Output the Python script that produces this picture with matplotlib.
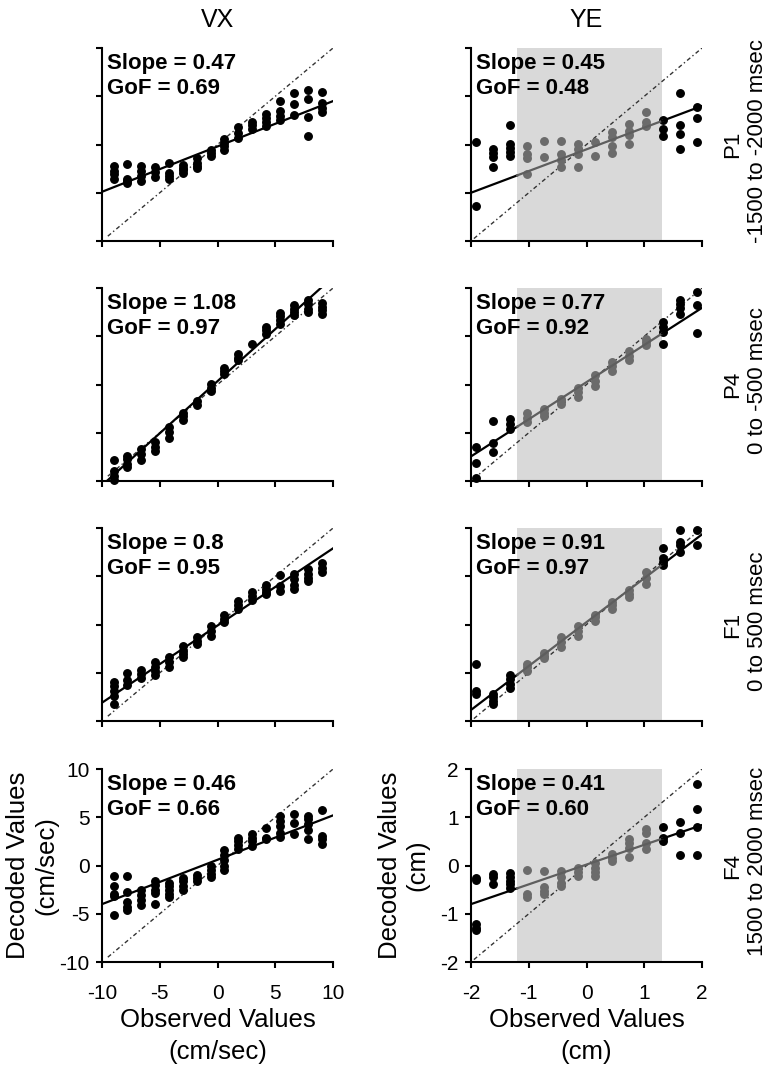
import numpy as np
import matplotlib.pyplot as plt

plt.rcParams['font.family'] = ['Liberation Sans', 'DejaVu Sans']
plt.rcParams['axes.unicode_minus'] = False

# observed positions (bins)
vx_pos = [-9, -7.8, -6.6, -5.4, -4.2, -3, -1.8, -0.6, 0.6, 1.8, 3, 4.2, 5.4, 6.6, 7.8, 9]
ye_pos = [-1.92, -1.62, -1.33, -1.03, -0.74, -0.44, -0.15, 0.15, 0.44, 0.74, 1.03, 1.33, 1.62, 1.92]

# decoded values per bin, VX (cm/sec)
vx_p1 = [[-2.24, -2.7, -3.1, -3.55], [-2.07, -3.55, -3.8, -3.97], [-2.24, -2.76, -3.28, -3.8],
         [-2.34, -2.86, -3.38], [-1.9, -2.93, -3.28, -3.55], [-2.17, -2.41, -2.69, -2.93],
         [-1.45, -1.9, -2.24, -2.48], [-0.52, -0.86, -1.2], [0.52, 0.17, -0.17, -0.62],
         [1.83, 1.2, 0.69], [2.3, 1.97, 1.62], [3.2, 2.76, 2.3, 1.9], [4.55, 3.45, 3.0, 2.59],
         [5.34, 4.2, 3.1], [5.69, 4.72, 2.83, 0.86], [5.45, 4.31, 3.8, 3.34]]
vx_p4 = [[-7.85, -8.96, -9.48, -9.93], [-7.4, -7.74, -8.2, -8.6], [-6.7, -7.2, -7.8],
         [-6.0, -6.5, -6.9], [-4.44, -4.97, -5.5], [-3.0, -3.3, -3.7], [-1.74, -2.08],
         [0.07, -0.35, -0.69], [1.7, 1.39, 1.04], [3.13, 2.78, 2.5], [4.24],
         [5.97, 5.6, 5.2], [7.43, 7.08, 6.67, 6.32], [8.23, 7.88, 7.53, 7.19],
         [8.75, 8.33, 7.88, 7.53], [8.4, 8.06, 7.7, 7.36]]
vx_f1 = [[-5.94, -6.42, -6.88, -7.4, -8.26], [-5.03, -5.76, -6.28], [-4.72, -5.14, -5.49],
         [-3.92, -4.38, -4.79, -5.2], [-3.4, -3.92, -4.44], [-2.19, -2.7, -3.06, -3.4],
         [-1.32, -1.67, -2.01], [-0.1, -0.63, -1.15], [0.94, 0.6, 0.31], [2.4, 1.98, 1.63],
         [3.37, 2.92, 2.57], [4.13, 3.72, 3.37, 3.13], [5.17, 3.96, 3.47],
         [5.28, 4.76, 4.13, 3.72], [5.8, 5.28, 4.86, 4.48], [6.39, 5.87, 5.45]]
vx_f4 = [[-1.06, -2.17, -2.9, -3.2, -5.13], [-1.06, -2.7, -3.74, -4.33, -4.6],
         [-2.52, -3.04, -3.56, -4.09], [-1.65, -2.0, -2.52, -2.87, -3.98],
         [-1.83, -2.17, -2.52, -2.94, -3.29], [-1.3, -1.65, -2.17, -2.52], [-0.96, -1.3, -1.65],
         [-0.02, -0.43, -0.85, -1.2], [1.65, 1.13, 0.6, -0.09, -0.43], [2.87, 2.52, 2.17, 1.72],
         [3.22, 2.87, 2.52, 2.0], [3.91, 2.87, 2.7], [5.13, 4.6, 4.09, 3.39, 2.97],
         [5.3, 4.43, 3.32], [5.13, 4.78, 4.26, 3.67, 2.77], [5.72, 3.11, 2.7, 2.28]]

# decoded values per bin, YE (cm)
ye_p1 = [[0.05, -1.27], [-0.09, -0.18, -0.26, -0.46], [0.4, 0.01, -0.07, -0.16, -0.24],
         [-0.04, -0.19, -0.28, -0.61], [0.07, -0.25], [0.08, -0.19, -0.32, -0.46],
         [0.01, -0.09, -0.19, -0.46], [0.05, -0.23], [0.26, 0.15, -0.04, -0.18],
         [0.43, 0.29, 0.19, 0.01], [0.67, 0.47, 0.38], [0.5, 0.33, 0.17],
         [1.06, 0.4, 0.22, -0.09], [0.78, 0.55, 0.05]]
ye_p4 = [[-1.29, -1.62, -1.94], [-0.75, -1.22, -1.39], [-0.72, -0.82, -0.92], [-0.6, -0.69, -0.78],
         [-0.51, -0.58, -0.65], [-0.3, -0.35, -0.4], [-0.07, -0.16, -0.25], [0.19, 0.08, -0.04],
         [0.47, 0.38, 0.29], [0.69, 0.6, 0.5], [0.95, 0.88, 0.81], [1.3, 1.19, 1.09, 0.85],
         [1.75, 1.67, 1.58, 1.47], [1.92, 1.65, 1.06]]
ye_f1 = [[-0.82, -1.38, -1.44], [-1.44, -1.51, -1.58, -1.64], [-1.04, -1.13, -1.24, -1.31],
         [-0.81, -0.89, -0.97], [-0.6, -0.65, -0.69], [-0.26, -0.37, -0.46], [-0.04, -0.13, -0.23],
         [0.2, 0.15, 0.08], [0.47, 0.4, 0.33], [0.71, 0.64, 0.57], [1.09, 0.97, 0.85],
         [1.58, 1.37, 1.3, 1.23], [1.96, 1.72, 1.65, 1.51], [1.96, 1.65]]
ye_f4 = [[-0.25, -0.31, -1.22, -1.29, -1.33], [-0.17, -0.24, -0.38], [-0.15, -0.24, -0.32, -0.39, -0.46],
         [-0.1, -0.59, -0.66], [-0.11, -0.45, -0.52, -0.59], [-0.11, -0.24, -0.36, -0.43],
         [-0.05, -0.13, -0.22], [0.06, -0.05, -0.13, -0.22], [0.23, 0.16, 0.09],
         [0.54, 0.47, 0.37, 0.18], [0.75, 0.68, 0.47, 0.34], [0.8, 0.58, 0.51],
         [0.91, 0.68, 0.22], [1.69, 1.17, 0.8, 0.22]]

vx_slope = [0.47, 1.08, 0.80, 0.46]
vx_icpt = [-0.2, 0.35, -0.1, 0.6]
vx_slope_txt = ['0.47', '1.08', '0.8', '0.46']
vx_gof_txt = ['0.69', '0.97', '0.95', '0.66']

ye_slope = [0.45, 0.77, 0.91, 0.41]
ye_icpt = [-0.1, 0.05, 0.05, 0.02]
ye_slope_txt = ['0.45', '0.77', '0.91', '0.41']
ye_gof_txt = ['0.48', '0.92', '0.97', '0.60']

ye_shade = [-1.2, 1.31]

phases = ['P1', 'P4', 'F1', 'F4']
windows = ['-1500 to -2000 msec', '0 to -500 msec', '0 to 500 msec', '1500 to 2000 msec']

vx_data = [vx_p1, vx_p4, vx_f1, vx_f4]
ye_data = [ye_p1, ye_p4, ye_f1, ye_f4]

grey_pt = '#6b6b6b'
grey_ln = '#5e5e5e'

fig = plt.figure(figsize=(7.66, 10.72), dpi=100)

row_bottoms = [0.7752, 0.5513, 0.3274, 0.1026]
h = 0.18
w = 0.3016


def flat(pos, cols):
    xs, ys = [], []
    for p, c in zip(pos, cols):
        xs += [p] * len(c)
        ys += c
    return np.array(xs), np.array(ys)


def style(ax, lim, ticks, last):
    for s in ['top', 'right']:
        ax.spines[s].set_visible(False)
    for s in ['left', 'bottom']:
        ax.spines[s].set_linewidth(1.5)
    ax.set_xlim(-lim, lim)
    ax.set_ylim(-lim, lim)
    ax.set_xticks(ticks)
    ax.set_yticks(ticks)
    ax.tick_params(direction='out', length=4, width=1.5, labelsize=15)
    ax.tick_params(axis='y', pad=5)
    ax.tick_params(axis='x', pad=12)
    if not last:
        ax.set_xticklabels([])
        ax.set_yticklabels([])


for i in range(4):
    last = i == 3
    # ---- VX column
    ax = fig.add_axes([0.1332, row_bottoms[i], w, h])
    style(ax, 10, [-10, -5, 0, 5, 10], last)
    idl = np.array([-9.5, 10])
    ax.plot(idl, idl, color='#333333', lw=1.0, ls=(0, (3, 2, 1, 2)))
    xs, ys = flat(vx_pos, vx_data[i])
    ax.plot(xs, ys, 'o', color='black', ms=5.4, clip_on=False, zorder=3)
    fx = np.array([-10, 10])
    ax.plot(fx, vx_slope[i] * fx + vx_icpt[i], color='black', lw=1.6, zorder=4)
    ax.text(0.02, 0.975, 'Slope = ' + vx_slope_txt[i] + '\nGoF = ' + vx_gof_txt[i],
            transform=ax.transAxes, ha='left', va='top', fontsize=16,
            fontweight='bold', linespacing=1.25, zorder=5)
    if i == 0:
        ax.set_title('VX', fontsize=18, pad=15)
    if last:
        ax.set_xlabel('Observed Values\n(cm/sec)', fontsize=18.5, linespacing=1.4)
        ax.set_ylabel('Decoded Values\n(cm/sec)', fontsize=18.5, linespacing=1.2)
        ax.yaxis.set_label_coords(-0.19, 0.5)
        ax.xaxis.set_label_coords(0.5, -0.24)

    # ---- YE column
    ax = fig.add_axes([0.6149, row_bottoms[i], w, h])
    style(ax, 2, [-2, -1, 0, 1, 2], last)
    ax.axvspan(ye_shade[0], ye_shade[1], ymax=1.0, color='#d9d9d9', lw=0, zorder=0)
    idl = np.array([-1.95, 2])
    ax.plot(idl, idl, color='#333333', lw=1.0, ls=(0, (3, 2, 1, 2)), zorder=2)
    xs, ys = flat(ye_pos, ye_data[i])
    inside = (xs > ye_shade[0]) & (xs < ye_shade[1])
    ax.plot(xs[~inside], ys[~inside], 'o', color='black', ms=5.4, clip_on=False, zorder=3)
    ax.plot(xs[inside], ys[inside], 'o', color=grey_pt, ms=5.4, zorder=3)
    for seg, col in [((-2, ye_shade[0]), 'black'), (ye_shade, grey_ln), ((ye_shade[1], 2), 'black')]:
        fx = np.array(seg)
        ax.plot(fx, ye_slope[i] * fx + ye_icpt[i], color=col, lw=1.6, zorder=4)
    ax.text(0.02, 0.975, 'Slope = ' + ye_slope_txt[i] + '\nGoF = ' + ye_gof_txt[i],
            transform=ax.transAxes, ha='left', va='top', fontsize=16,
            fontweight='bold', linespacing=1.25, zorder=5)
    ax.text(1.134, 0.5, phases[i], transform=ax.transAxes, rotation=90,
            ha='center', va='center', fontsize=16)
    ax.text(1.238, 0.52, windows[i], transform=ax.transAxes, rotation=90,
            ha='center', va='center', fontsize=16)
    if i == 0:
        ax.set_title('YE', fontsize=18, pad=15)
    if last:
        ax.set_xlabel('Observed Values\n(cm)', fontsize=18.5, linespacing=1.4)
        ax.set_ylabel('Decoded Values\n(cm)', fontsize=18.5, linespacing=1.2)
        ax.yaxis.set_label_coords(-0.18, 0.5)
        ax.xaxis.set_label_coords(0.5, -0.24)

fig.savefig('out.png', dpi=100)
